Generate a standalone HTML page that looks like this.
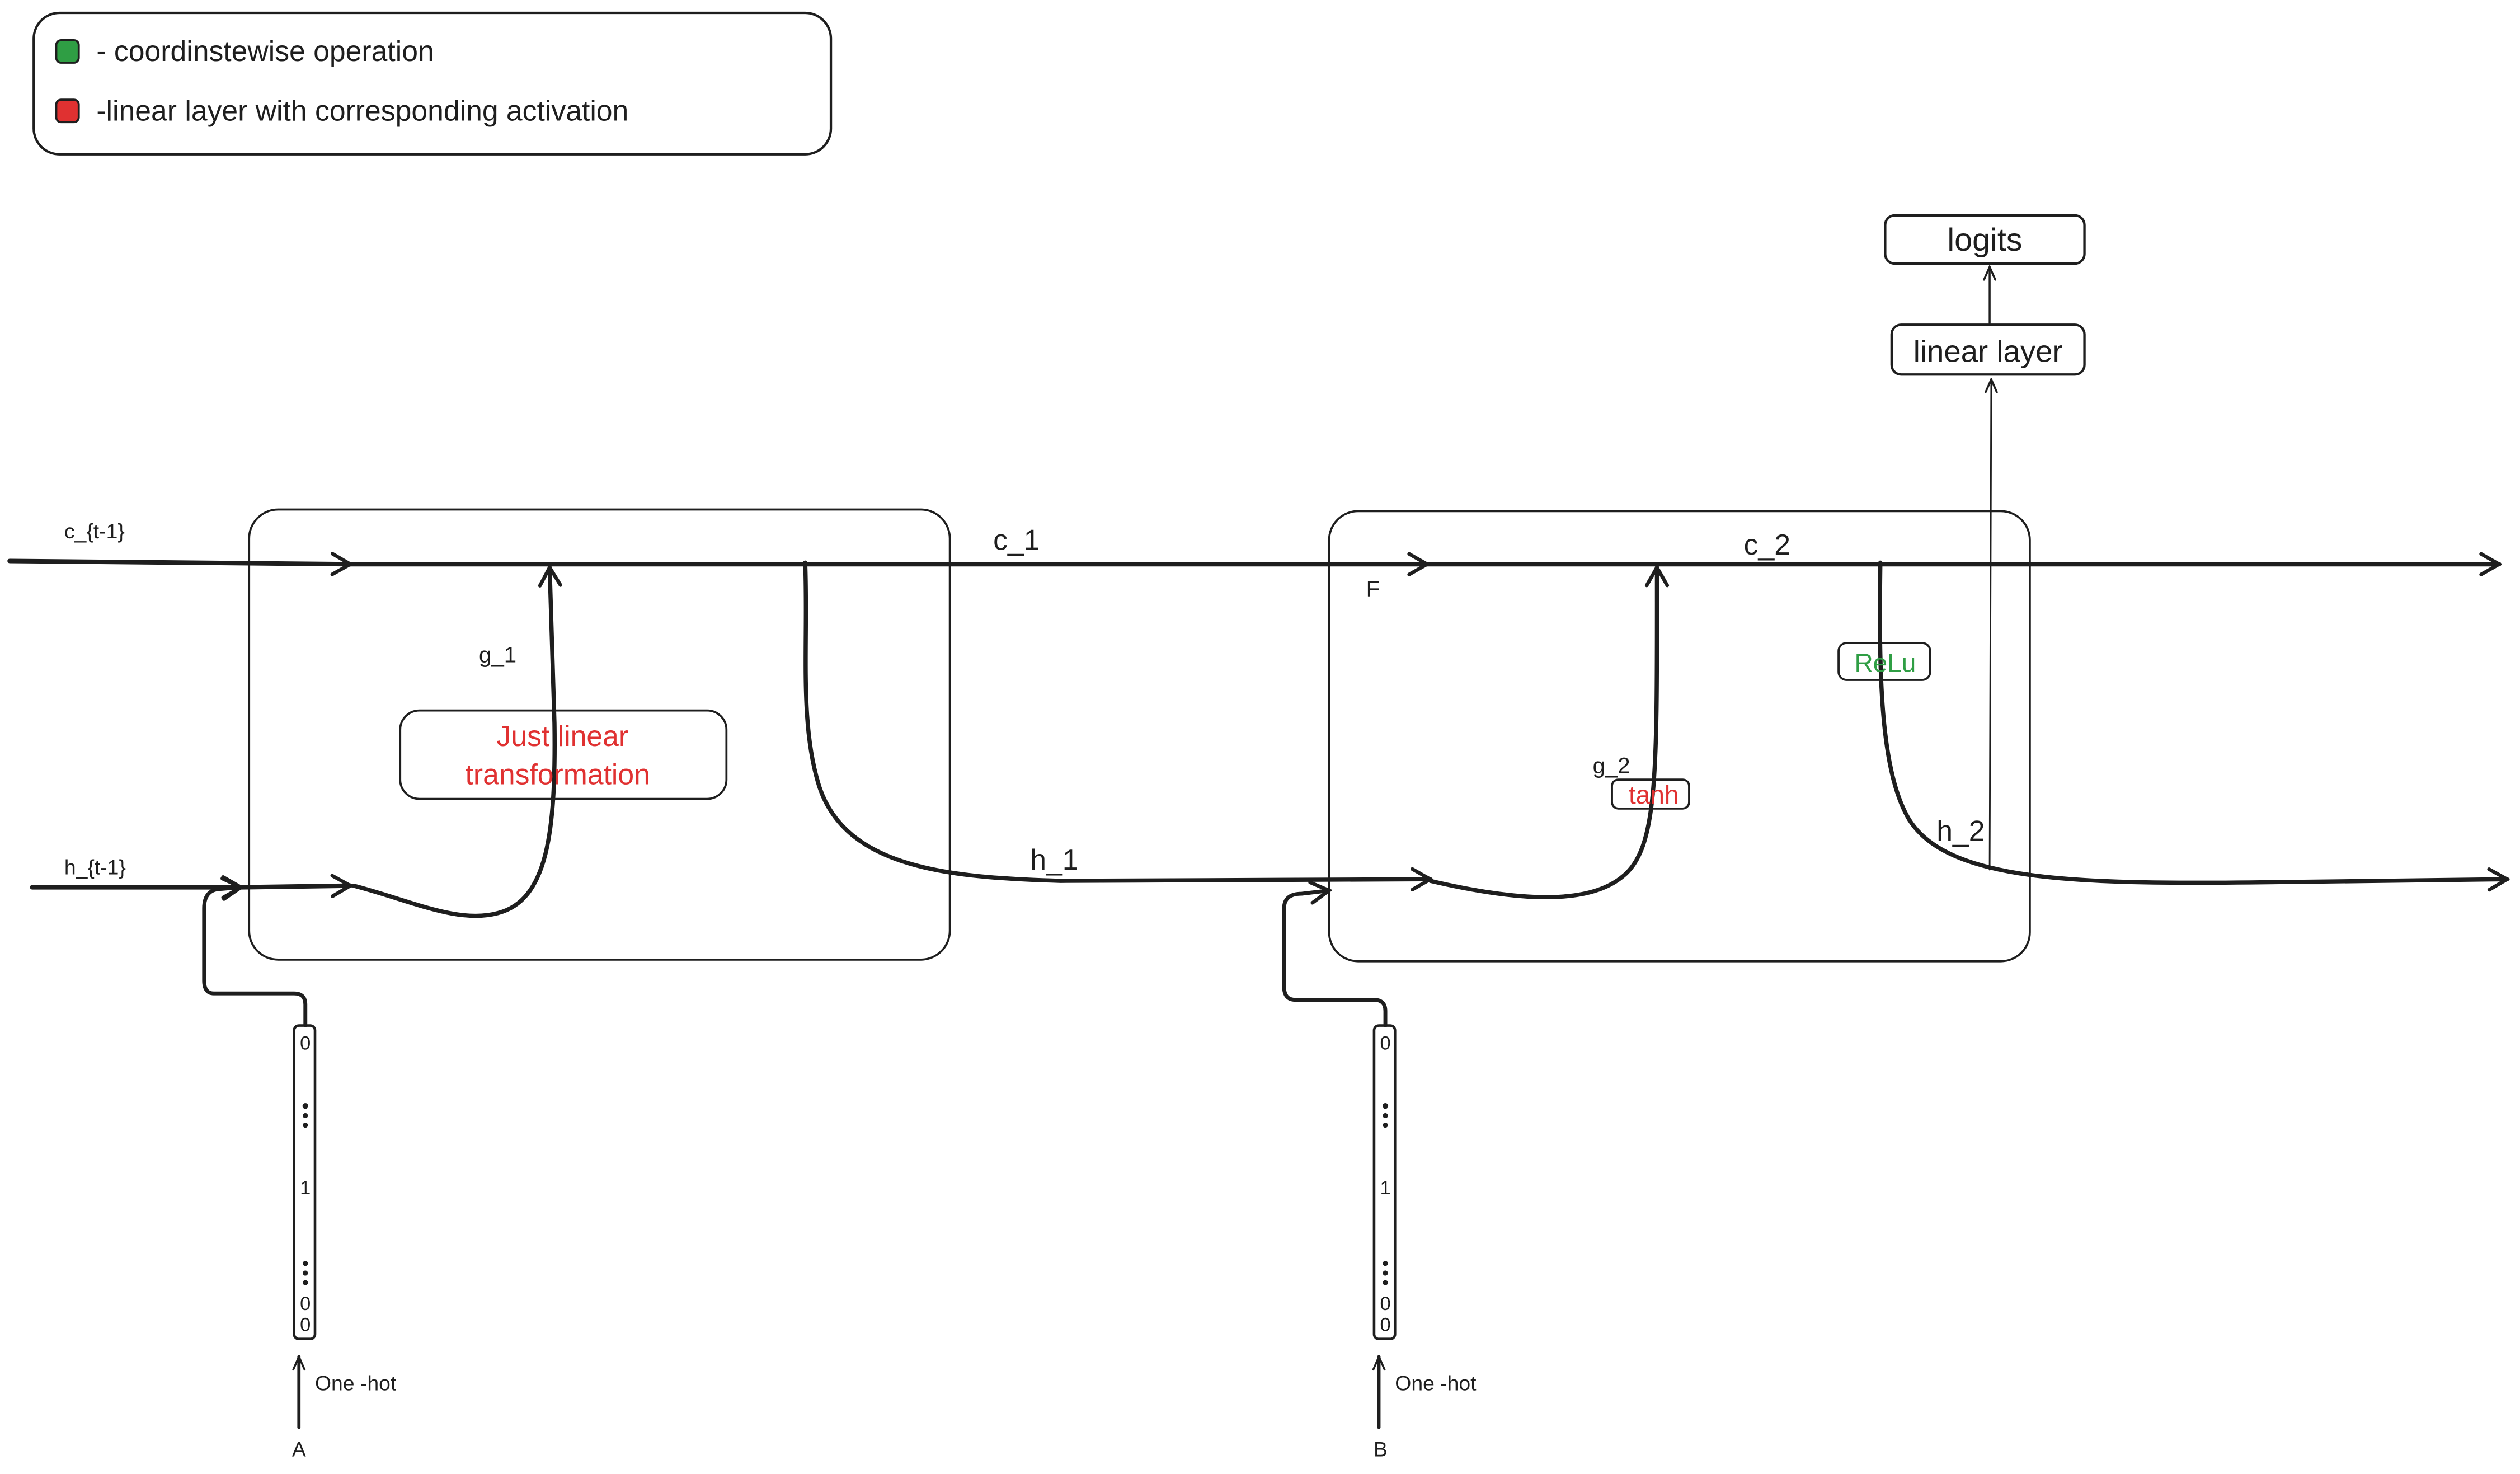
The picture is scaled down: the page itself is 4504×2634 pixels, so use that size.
<!DOCTYPE html>
<html><head><meta charset="utf-8"><style>
html,body{margin:0;padding:0;background:#fff;}
svg{display:block;}
text{font-family:"Liberation Sans",sans-serif;fill:#1e1e1e;}
</style></head><body>
<svg width="4504" height="2634" viewBox="0 0 1568 917" preserveAspectRatio="none" xmlns="http://www.w3.org/2000/svg">
<defs>
<marker id="a" viewBox="0 0 20 20" refX="18" refY="10" markerWidth="16" markerHeight="16" markerUnits="userSpaceOnUse" orient="auto"><path d="M4,2 L18,10 L4,18" fill="none" stroke="#1e1e1e" stroke-width="2.8" stroke-linecap="round"/></marker>
<marker id="s" viewBox="0 0 20 20" refX="18" refY="10" markerWidth="10" markerHeight="10" markerUnits="userSpaceOnUse" orient="auto"><path d="M2,3 L18,10 L2,17" fill="none" stroke="#1e1e1e" stroke-width="2.5" stroke-linecap="round"/></marker>
</defs>
<g fill="none" stroke="#1e1e1e" stroke-linecap="round" stroke-linejoin="round">
<rect x="21" y="8" width="496" height="88" rx="16" stroke-width="1.5"/>
<rect x="35" y="25" width="14" height="14" rx="3" fill="#2f9e44" stroke-width="1.3"/>
<rect x="35" y="62" width="14" height="14" rx="3" fill="#e03131" stroke-width="1.3"/>
<rect x="1173" y="134" width="124" height="30" rx="6" stroke-width="1.5"/>
<rect x="1177" y="202" width="120" height="31" rx="6" stroke-width="1.5"/>
<line x1="1238" y1="201" x2="1238" y2="166" stroke-width="1.2" marker-end="url(#s)"/>
<line x1="1238" y1="541" x2="1239" y2="236" stroke-width="1" marker-end="url(#s)"/>
<rect x="155" y="317" width="436" height="280" rx="18" stroke-width="1.3"/>
<rect x="827" y="318" width="436" height="280" rx="18" stroke-width="1.3"/>
<rect x="249" y="442" width="203" height="55" rx="12" stroke-width="1.3"/>
<rect x="1003" y="485" width="48" height="18" rx="4" stroke-width="1.3"/>
<rect x="1144" y="400" width="57" height="23" rx="5" stroke-width="1.3"/>
<path d="M6,349 L218,351" stroke-width="2.8" marker-end="url(#a)"/>
<path d="M218,351 L888,351" stroke-width="2.8" marker-end="url(#a)"/>
<path d="M888,351 L1555,351" stroke-width="2.8" marker-end="url(#a)"/>
<path d="M20,552 L150,552" stroke-width="2.8" marker-end="url(#a)"/>
<path d="M150,552 L218,551" stroke-width="2.8" marker-end="url(#a)"/>
<path d="M220,551 C255,560 285,575 310,568 C340,560 346,520 345,450 L342,353" stroke-width="2.6" marker-end="url(#a)"/>
<path d="M501,350 C503,400 497,450 510,490 C527,540 590,546 660,548 L890,547" stroke-width="2.6" marker-end="url(#a)"/>
<path d="M890,548 C950,562 990,562 1010,545 C1032,527 1031,480 1031,353" stroke-width="2.6" marker-end="url(#a)"/>
<path d="M1170,350 C1169,420 1170,480 1188,510 C1212,548 1290,550 1400,549 L1560,547" stroke-width="2.6" marker-end="url(#a)"/>
<path d="M190,638 L190,625 Q190,618 183,618 L133,618 Q127,618 127,610 L127,565 Q127,553 138,553 L150,552" stroke-width="2.4" marker-end="url(#a)"/>
<path d="M862,638 L862,629 Q862,622 855,622 L806,622 Q799,622 799,614 L799,565 Q799,556 810,556 L827,554" stroke-width="2.4" marker-end="url(#a)"/>
<rect x="183" y="638" width="13" height="195" rx="3" stroke-width="1.6"/>
<rect x="855" y="638" width="13" height="195" rx="3" stroke-width="1.6"/>
<path d="M186,888 L186,844" stroke-width="2" marker-end="url(#s)"/>
<path d="M858,888 L858,844" stroke-width="2" marker-end="url(#s)"/>
</g>
<g fill="#1e1e1e">
<circle cx="190" cy="688" r="1.8"/><circle cx="190" cy="694" r="1.6"/><circle cx="190" cy="700" r="1.6"/>
<circle cx="190" cy="786" r="1.6"/><circle cx="190" cy="792" r="1.6"/><circle cx="190" cy="798" r="1.6"/>
<circle cx="862" cy="688" r="1.8"/><circle cx="862" cy="694" r="1.6"/><circle cx="862" cy="700" r="1.6"/>
<circle cx="862" cy="786" r="1.6"/><circle cx="862" cy="792" r="1.6"/><circle cx="862" cy="798" r="1.6"/>
</g>
<g font-size="12" text-anchor="middle">
<text x="190" y="653">0</text><text x="190" y="743">1</text><text x="190" y="815">0</text><text x="190" y="828">0</text>
<text x="862" y="653">0</text><text x="862" y="743">1</text><text x="862" y="815">0</text><text x="862" y="828">0</text>
</g>
<text x="60" y="38" font-size="18">- coordinstewise operation</text>
<text x="60" y="75" font-size="18">-linear layer with corresponding activation</text>
<text x="1235" y="156" font-size="20" text-anchor="middle">logits</text>
<text x="1237" y="225" font-size="19" text-anchor="middle">linear layer</text>
<text x="40" y="335" font-size="13">c_{t-1}</text>
<text x="40" y="544" font-size="13">h_{t-1}</text>
<text x="618" y="342" font-size="18">c_1</text>
<text x="641" y="541" font-size="18">h_1</text>
<text x="298" y="412" font-size="14">g_1</text>
<text x="850" y="371" font-size="14">F</text>
<text x="1085" y="345" font-size="18">c_2</text>
<text x="1205" y="523" font-size="18">h_2</text>
<text x="991" y="481" font-size="14">g_2</text>
<text x="350" y="464" font-size="18" text-anchor="middle" style="fill:#e03131">Just linear</text>
<text x="347" y="488" font-size="18" text-anchor="middle" style="fill:#e03131">transformation</text>
<text x="1029" y="500" font-size="16" text-anchor="middle" style="fill:#e03131">tanh</text>
<text x="1173" y="418" font-size="16" text-anchor="middle" style="fill:#2f9e44">ReLu</text>
<text x="196" y="865" font-size="13">One -hot</text>
<text x="868" y="865" font-size="13">One -hot</text>
<text x="186" y="906" font-size="13" text-anchor="middle">A</text>
<text x="859" y="906" font-size="13" text-anchor="middle">B</text>
</svg>
</body></html>
